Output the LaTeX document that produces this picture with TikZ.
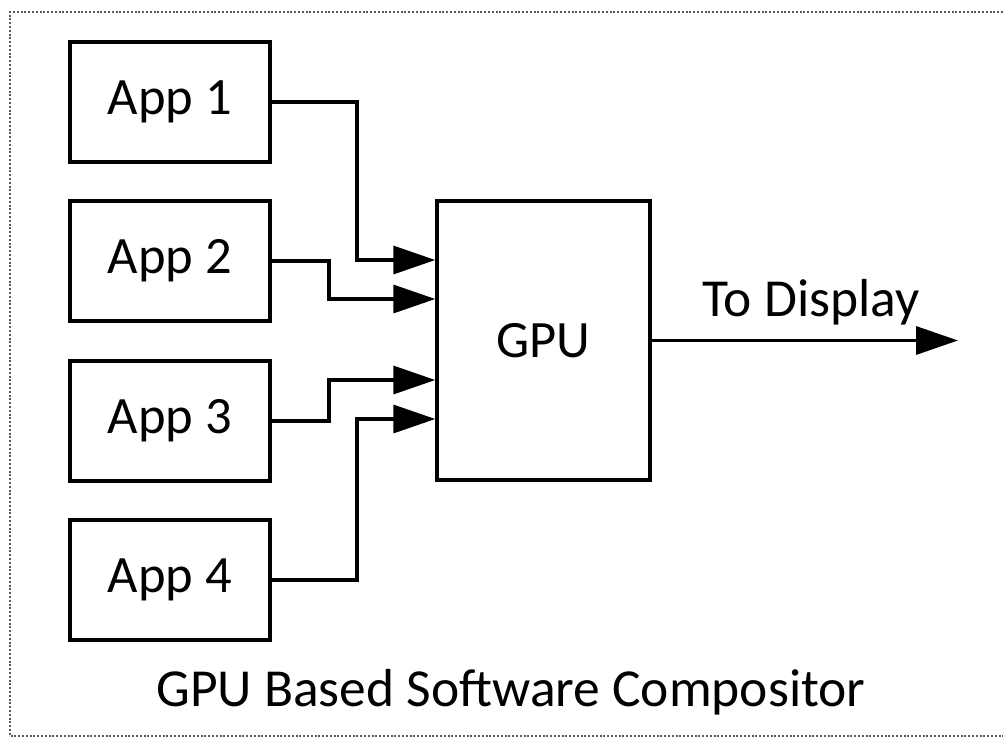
\documentclass[tikz,border=0pt]{standalone}
\usepackage{fontspec}
\setmainfont{Carlito}
\usetikzlibrary{arrows.meta,calc}
\begin{document}
\begin{tikzpicture}[x=1pt,y=-1pt,
  appbox/.style={draw=black,line width=3.4pt,minimum width=200pt,minimum height=120pt,inner sep=0pt,font=\fontsize{52.5}{62}\selectfont},
  gpubox/.style={draw=black,line width=3.4pt,minimum width=213pt,minimum height=279pt,inner sep=0pt,font=\fontsize{52.5}{62}\selectfont},
  conn/.style={draw=black,line width=3.4pt,-{Triangle[length=42pt,width=28pt]}},
  lbl/.style={font=\fontsize{53.5}{64}\selectfont,inner sep=0pt},
  frame/.style={draw=black!65,line width=2pt,dash pattern=on 2pt off 1.8pt}]
\useasboundingbox (0,0) rectangle (1003,737);
\draw[frame] (1003,12) -- (10,12) -- (10,736) -- (1003,736);
\node[appbox] (a1) at (170,102) {App 1};
\node[appbox] (a2) at (170,261) {App 2};
\node[appbox] (a3) at (170,421) {App 3};
\node[appbox] (a4) at (170,580) {App 4};
\node[gpubox] (gpu) at (543.5,340.5) {GPU};
\coordinate (out) at (958,340.5);
\draw[conn] (a1.east) -| (357,180) |- ($(gpu.west)+(0,-80.5)$);
\draw[conn] (a2.east) -| (329,280) |- ($(gpu.west)+(0,-41.5)$);
\draw[conn] (a3.east) -| (329,400) |- ($(gpu.west)+(0,39.5)$);
\draw[conn] (a4.east) -| (357,500) |- ($(gpu.west)+(0,78.5)$);
\draw[conn] (gpu.east) -- (out);
\node[lbl,anchor=base] (td) at (811,316) {To Display};
\node[lbl,anchor=base] (title) at (511,706) {GPU Based Software Compositor};
\end{tikzpicture}
\end{document}
